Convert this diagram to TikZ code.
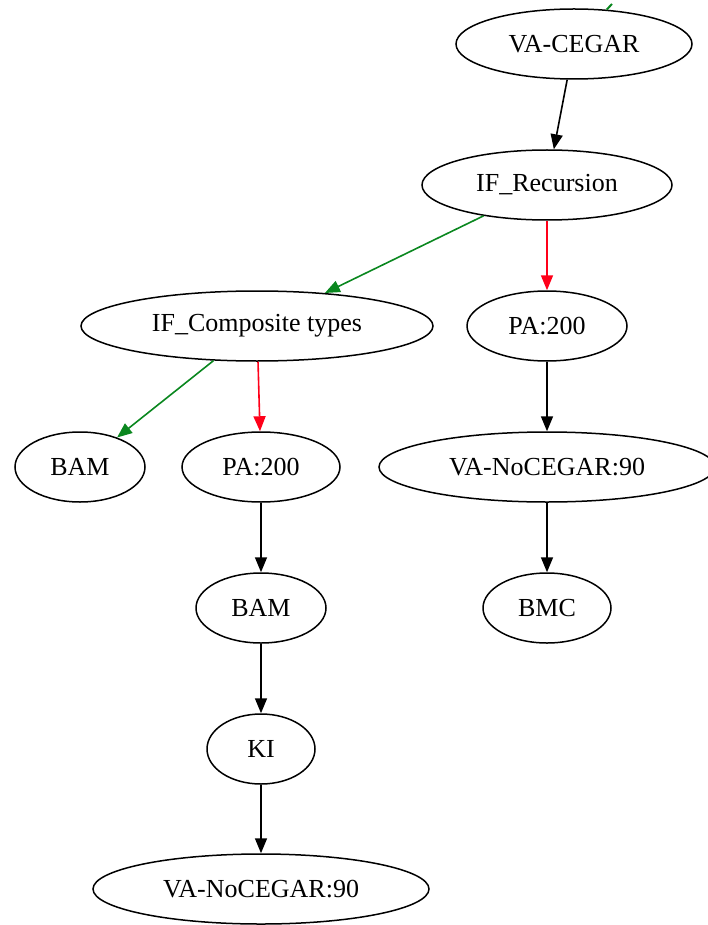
\documentclass[tikz,border=0pt]{standalone}
\usepackage{fontspec}
\setmainfont{Liberation Serif}
\usetikzlibrary{arrows.meta, shapes.geometric}
\definecolor{edgegreen}{rgb}{0.04, 0.53, 0.12}
\definecolor{edgered}{rgb}{1.0, 0.0, 0.1}

\begin{document}
\begin{tikzpicture}[x=1pt, y=-1pt,
        state/.style={draw, ellipse, inner sep=0pt, line width=1.5pt, minimum height=70pt,
            font=\fontsize{26}{30}\selectfont},
        edge/.style={line width=1.6pt, -{Triangle[length=15pt, width=12pt]}}]
        \useasboundingbox (0, 0) rectangle (707, 925);
        \begin{scope}
            \node [state, minimum width=236pt] (Vc) at (574, 44) {VA-CEGAR};
            \node [state, minimum width=250pt] (Ir) at (547, 185) {IF\_Recursion};

            \node [state, minimum width=352pt] (Ic) at (257, 326) {IF\_Composite types};
            \node [state, minimum width=160pt] (Pr) at (547, 326) {PA:200};

            \node [state, minimum width=130pt] (B1) at (80, 467) {BAM};
            \node [state, minimum width=158pt] (P1) at (261, 467) {PA:200};
            \node [state, minimum width=336pt] (Vr) at (547, 467) {VA-NoCEGAR:90};

            \node [state, minimum width=130pt] (B2) at (261, 608) {BAM};
            \node [state, minimum width=128pt] (Bm) at (547, 608) {BMC};
            \node [state, minimum width=108pt] (Ki) at (261, 749) {KI};
            \node [state, minimum width=336pt] (Vb) at (261, 889) {VA-NoCEGAR:90};

            \coordinate (In) at (612, 4);

            \draw [line width=2pt, color=edgegreen] (In) -- (Vc);
            \draw [edge] (Vc) -- (Ir);
            \draw [edge, color=edgegreen] (Ir) -- (Ic);
            \draw [edge, color=edgered] (Ir) -- (Pr);
            \draw [edge, color=edgegreen] (Ic) -- (B1);
            \draw [edge, color=edgered] (Ic) -- (P1);
            \draw [edge] (Pr) -- (Vr);
            \draw [edge] (Vr) -- (Bm);
            \draw [edge] (P1) -- (B2);
            \draw [edge] (B2) -- (Ki);
            \draw [edge] (Ki) -- (Vb);
        \end{scope}
    \end{tikzpicture}
\end{document}
